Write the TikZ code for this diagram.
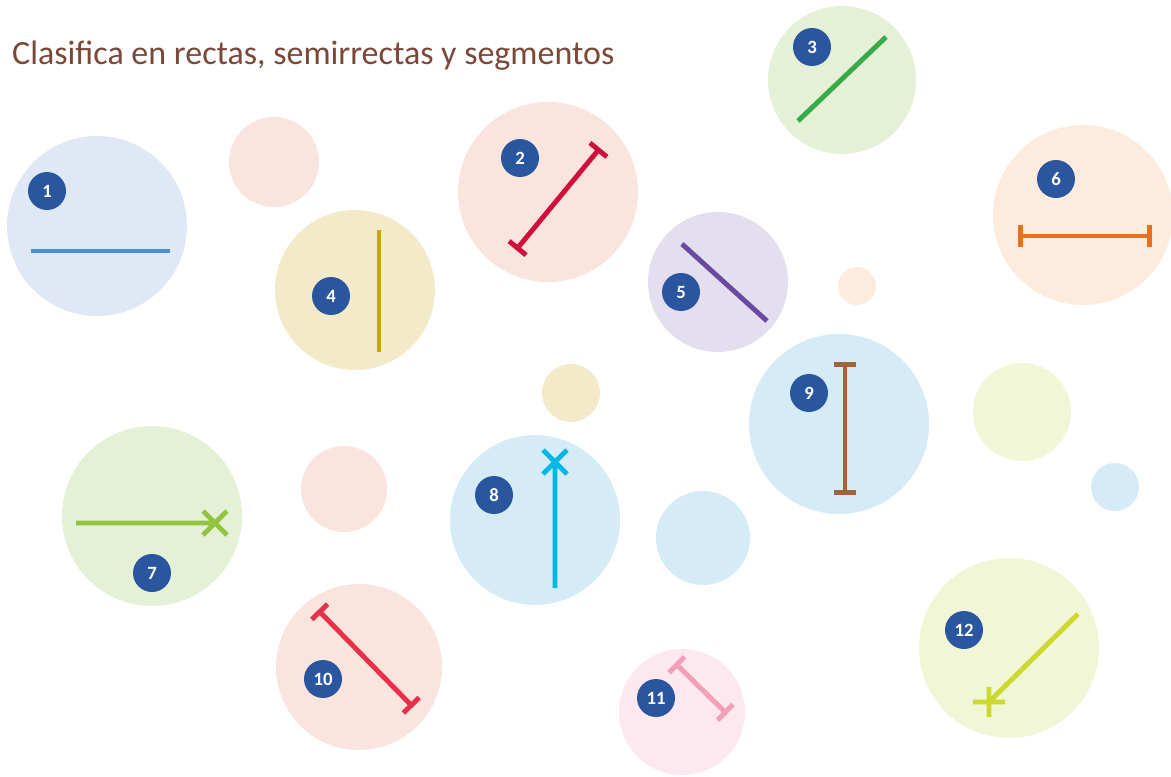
\documentclass[tikz,border=0pt]{standalone}
\usepackage{fontspec}
\setmainfont{Carlito}
\usetikzlibrary{arrows.meta}
\definecolor{badge}{RGB}{42,86,160}
\definecolor{title}{RGB}{122,72,56}
\definecolor{blueL}{RGB}{224,232,245}
\definecolor{pinkS}{RGB}{250,228,222}
\definecolor{beige}{RGB}{243,234,202}
\definecolor{greenL}{RGB}{229,241,214}
\definecolor{lav}{RGB}{227,223,239}
\definecolor{peach}{RGB}{253,236,222}
\definecolor{lblue}{RGB}{213,236,247}
\definecolor{ylgreen}{RGB}{241,246,215}
\definecolor{pinkL}{RGB}{252,232,238}
\definecolor{ln1}{RGB}{74,144,208}
\definecolor{ln2}{RGB}{208,16,58}
\definecolor{ln3}{RGB}{56,170,72}
\definecolor{ln4}{RGB}{200,168,0}
\definecolor{ln5}{RGB}{106,74,160}
\definecolor{ln6}{RGB}{228,112,32}
\definecolor{ln7}{RGB}{146,196,64}
\definecolor{ln8}{RGB}{0,184,228}
\definecolor{ln9}{RGB}{160,100,58}
\definecolor{ln10}{RGB}{232,48,74}
\definecolor{ln11}{RGB}{242,160,184}
\definecolor{ln12}{RGB}{204,218,48}
\begin{document}
\begin{tikzpicture}[x=0.03cm,y=-0.03cm,
    disc/.style={circle,inner sep=0pt,minimum size=#1*0.06cm},
    num/.style={circle,fill=badge,text=white,inner sep=0pt,
      minimum size=1.14cm,font=\bfseries\fontsize{16}{16}\selectfont},
    ray/.style={line width=4.2pt},
    seg/.style={ray,{Bar[width=0.66cm]}-{Bar[width=0.66cm]}}]
  \useasboundingbox (0,0) rectangle (1171,776);
  \node[anchor=base west,inner sep=0pt,text=title,font=\fontsize{29}{29}\selectfont]
    (head) at (12,64) {Clasifica en rectas, semirrectas y segmentos};
  % circles
  \node[disc=90,fill=blueL] (c1) at (97,226) {};
  \node[disc=45,fill=pinkS] (s1) at (274,162) {};
  \node[disc=80,fill=beige] (c4) at (355,290) {};
  \node[disc=90,fill=pinkS] (c2) at (548,192) {};
  \node[disc=74,fill=greenL] (c3) at (842,80) {};
  \node[disc=70,fill=lav] (c5) at (718,282) {};
  \node[disc=19,fill=peach] (s2) at (857,286) {};
  \node[disc=90,fill=peach] (c6) at (1083,215) {};
  \node[disc=29,fill=beige] (s3) at (571,393) {};
  \node[disc=90,fill=lblue] (c9) at (839,424) {};
  \node[disc=49,fill=ylgreen] (s4) at (1022,412) {};
  \node[disc=24,fill=lblue] (s5) at (1115,487) {};
  \node[disc=90,fill=greenL] (c7) at (152,516) {};
  \node[disc=43,fill=pinkS] (s6) at (344,489) {};
  \node[disc=85,fill=lblue] (c8) at (535,520) {};
  \node[disc=47,fill=lblue] (s7) at (703,538) {};
  \node[disc=83,fill=pinkS] (c10) at (359,667) {};
  \node[disc=63,fill=pinkL] (c11) at (682,712) {};
  \node[disc=90,fill=ylgreen] (c12) at (1009,648) {};
  % lines
  \draw[ray,ln1] (31,251) -- (170,251);
  \draw[seg,ln2] (516,250) -- (600,148);
  \draw[ray,ln3] (798,121) -- (886,37);
  \draw[ray,ln4] (379,230) -- (379,352);
  \draw[ray,ln5] (682,244) -- (767,321);
  \draw[seg,ln6] (1018,236) -- (1152,236);
  \draw[ray,ln7] (76,523) -- (215,523)
    (215,523) +(-12,-12) -- +(12,12) +(-12,12) -- +(12,-12);
  \draw[ray,ln8] (555,588) -- (555,462)
    (555,462) +(-12,-12) -- +(12,12) +(-12,12) -- +(12,-12);
  \draw[seg,ln9] (845,362) -- (845,495);
  \draw[seg,ln10] (318,610) -- (413,707);
  \draw[seg,ln11] (675,663) -- (727,714);
  \draw[ray,ln12] (1078,614) -- (989,702)
    (989,702) +(-16,0) -- +(16,0) +(0,-15) -- +(0,15);
  % badges
  \node[num] (n1) at (47,191) {1};
  \node[num] (n2) at (520,158) {2};
  \node[num] (n3) at (812,47) {3};
  \node[num] (n4) at (331,296) {4};
  \node[num] (n5) at (681,292) {5};
  \node[num] (n6) at (1056,179) {6};
  \node[num] (n7) at (152,573) {7};
  \node[num] (n8) at (494,495) {8};
  \node[num] (n9) at (809,393) {9};
  \node[num] (n10) at (323,679) {10};
  \node[num] (n11) at (656,698) {11};
  \node[num] (n12) at (964,630) {12};
\end{tikzpicture}
\end{document}
